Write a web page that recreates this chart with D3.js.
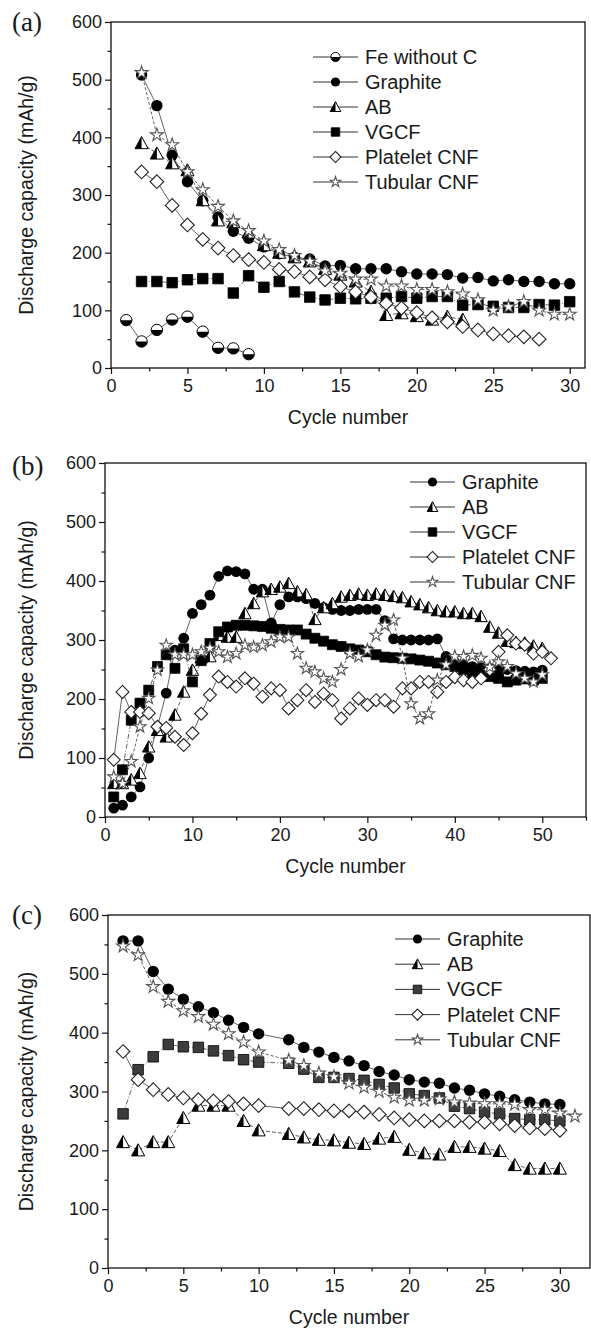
<!DOCTYPE html>
<html>
<head>
<meta charset="utf-8">
<script src="https://cdn.jsdelivr.net/npm/d3@7"></script>
<style>
  body { margin: 0; background: #fff; }
  text { font-family: 'Liberation Sans', Arial, sans-serif; fill: #1a1a1a; }
</style>
</head>
<body>
<svg id="chart" width="591" height="1330"></svg>
<script>

// Discharge capacity (mAh/g), indexed by cycle number starting at 1; null = no point
const seriesNamesA = ['Fe without C', 'Graphite', 'AB', 'VGCF', 'Platelet CNF', 'Tubular CNF'];
const seriesNamesBC = ['Graphite', 'AB', 'VGCF', 'Platelet CNF', 'Tubular CNF'];

// (a)
const aFe = [83, 46, 66, 84, 89, 63, 35, 34, 24];
const aGraphite = [null, 508, 455, 369, 323, 290, 262, 237, 225, 210, 198, 192, 189, 177, 178,
  172, 172, 172, 167, 163, 163, 162, 156, 157, 151, 153, 150, 150, 146, 146];
const aAB = [null, 390, 372, 355, 343, 291, 256, 253, 235, 213, 200, 192, 185, 172, 162,
  150, 132, 92, 95, 90, 84, 89, 84];
const aVGCF = [null, 150, 150, 148, 153, 155, 155, 130, 160, 140, 150, 132, 123, 118, 121,
  120, 121, 121, 124, 121, 124, 124, 109, 110, 107, 105, 105, 110, 109, 115];
const aPlatelet = [null, 340, 323, 282, 248, 223, 208, 195, 188, 183, 171, 167, 158, 153, 141,
  132, 123, 112, 104, 96, 87, 80, 72, 66, 59, 56, 54, 50];
const aTubular = [null, 512, 404, 387, 340, 309, 280, 255, 238, 220, 205, 195, 185, 168, 164,
  154, 154, 142, 142, 136, 136, 132, 128, 118, 100, 106, 115, 100, 93, 93];

// (b)
const bGraphite = [15, 20, 34, 51, 100, 153, 210, 283, 303, 345, 360, 376, 408, 417, 416,
  412, 386, 386, 329, 360, 373, 373, 370, 362, 355, 352, 350, 350, 352, 352,
  352, 333, 302, 300, 300, 300, 300, 302, 272, 262, 258, 255, 253, 252, 250,
  250, 248, 247, 246, 249];
const bAB = [57, 57, 63, 74, 119, 147, 136, 173, 212, 249, 270, 272, 308, 305, 305,
  345, 362, 382, 386, 390, 396, 382, 377, 335, 355, 362, 373, 376, 378, 376,
  378, 376, 374, 372, 365, 360, 355, 350, 348, 348, 345, 345, 340, 322, 312,
  298, 296, 295, 290, 286];
const bVGCF = [34, 80, 164, 193, 215, 255, 275, 252, 285, 229, 265, 294, 314, 322, 325,
  325, 324, 323, 320, 318, 317, 317, 310, 303, 298, 292, 289, 285, 283, 280,
  275, 271, 270, 269, 268, 266, 264, 261, 258, 255, 250, 243, 240, 238, 235,
  229, 232, 234, 232, 235];
const bPlatelet = [97, 212, 178, 178, 176, 153, 151, 136, 122, 142, 175, 207, 238, 229, 221,
  235, 226, 204, 218, 215, 184, 198, 215, 195, 209, 198, 167, 184, 201, 190,
  198, 198, 187, 218, 218, 229, 229, 212, 229, 237, 232, 229, 235, 250, 280,
  308, 294, 292, 277, 280, 269];
const bTubular = [68, 57, 94, 153, 201, 249, 291, 275, 275, 275, 280, 286, 280, 271, 277,
  291, 288, 291, 297, 305, 305, 277, 252, 246, 235, 229, 250, 277, 272, 283,
  308, 325, 334, 269, 192, 167, 175, 232, 258, 272, 272, 274, 269, 254, 263,
  255, 243, 235, 229, 241];

// (c)  -- cycle 11 not measured
const cGraphite = [556, 556, 504, 474, 457, 444, 434, 421, 409, 398, null, 388, 375, 367, 358,
  352, 344, 334, 328, 320, 316, 314, 306, 302, 296, 292, 286, 282, 279, 278];
const cAB = [214, 200, 214, 214, 255, 276, 276, 276, 250, 234, null, 228, 222, 218, 217,
  213, 211, 220, 223, 201, 195, 193, 206, 206, 203, 199, 175, 169, 169, 169];
const cVGCF = [262, 337, 359, 380, 376, 375, 369, 361, 354, 350, null, 348, 338, 324, 324,
  322, 319, 312, 306, 296, 293, 289, 275, 271, 265, 262, 254, 252, 252, 250];
const cPlatelet = [368, 320, 303, 295, 289, 286, 284, 283, 279, 276, null, 271, 271, 269, 267,
  267, 265, 261, 255, 252, 250, 250, 250, 248, 248, 245, 242, 238, 237, 234];
const cTubular = [547, 532, 478, 453, 437, 427, 414, 398, 384, 367, null, 353, 344, 331, 325,
  314, 307, 300, 290, 285, 285, 287, 282, 280, 279, 279, 278, 269, 269, 263, 258];

const yTicks = [0, 100, 200, 300, 400, 500, 600];


const markerKinds = ['halfcircle', 'circle', 'halftri', 'square', 'diamond', 'star'];
const dashes = [null, null, '4,2', '5,2,1,2', null, '3,2'];


function toPoints(values) {
  return values
    .map((v, i) => ({c: i + 1, v: v}))
    .filter(d => d.v !== null);
}


function markerPath(kind, r) {
  switch (kind) {
    case 'circle':
    case 'halfcircle':
      return d3.symbol(d3.symbolCircle, Math.PI * r * r)();
    case 'square':
      return d3.symbol(d3.symbolSquare, 4 * r * r * 0.85)();
    case 'diamond': {
      const s = r * 1.2;
      return `M0,${-s}L${s},0L0,${s}L${-s},0Z`;
    }
    case 'halftri': {
      const h = r * 1.15;
      return `M0,${-h}L${h},${h * 0.85}L${-h},${h * 0.85}Z`;
    }
    case 'star':
      return d3.symbol(d3.symbolStar, (r * 1.2) * (r * 1.2) / 0.8908)();
  }
}


// one marker, drawn into selection (a <g> already translated)
function drawMarker(selection, kind, r, darkSquare) {
  const path = markerPath(kind, r);
  if (kind === 'circle') {
    selection.append('path').attr('d', path).attr('fill', '#000');
  } else if (kind === 'halfcircle') {
    selection.append('path').attr('d', path).attr('fill', '#fff');
    selection.append('path')
        .attr('d', `M${-r},0A${r},${r} 0 0 0 ${r},0Z`)
        .attr('fill', '#000');
    selection.append('path').attr('d', path)
        .attr('fill', 'none').attr('stroke', '#000').attr('stroke-width', 1);
  } else if (kind === 'halftri') {
    const h = r * 1.15;
    selection.append('path').attr('d', path).attr('fill', '#fff');
    selection.append('path')
        .attr('d', `M0,${-h}L0,${h * 0.85}L${-h},${h * 0.85}Z`)
        .attr('fill', '#000');
    selection.append('path').attr('d', path)
        .attr('fill', 'none').attr('stroke', '#000').attr('stroke-width', 1);
  } else if (kind === 'square') {
    selection.append('path').attr('d', path)
        .attr('fill', darkSquare ? '#3c3c3c' : '#000')
        .attr('stroke', '#000').attr('stroke-width', 0.8);
  } else if (kind === 'diamond') {
    selection.append('path').attr('d', path)
        .attr('fill', '#fff').attr('stroke', '#222').attr('stroke-width', 1.1);
  } else if (kind === 'star') {
    selection.append('path').attr('d', path)
        .attr('fill', '#fff').attr('stroke', '#555').attr('stroke-width', 1.1);
  }
}


function drawAxes(selection, p, x, y) {
  const b = p.box;
  const xMajor = d3.range(0, p.xMax + 0.01, p.xStep);
  const xMinor = d3.range(p.xStep / 2, p.xMax + 0.01, p.xStep);
  const yMinor = d3.range(50, 600, 100);

  const xAxis = selection.append('g')
      .attr('transform', `translate(0,${b.bottom})`)
      .call(d3.axisBottom(x).tickValues(xMajor).tickSize(6).tickPadding(5).tickSizeOuter(0));
  selection.append('g')
      .attr('transform', `translate(0,${b.bottom})`)
      .call(d3.axisBottom(x).tickValues(xMinor).tickSize(3.5).tickFormat('').tickSizeOuter(0));
  const yAxis = selection.append('g')
      .attr('transform', `translate(${b.left},0)`)
      .call(d3.axisLeft(y).tickValues(yTicks).tickSize(6).tickPadding(3).tickSizeOuter(0));
  selection.append('g')
      .attr('transform', `translate(${b.left},0)`)
      .call(d3.axisLeft(y).tickValues(yMinor).tickSize(3.5).tickFormat('').tickSizeOuter(0));

  selection.selectAll('.domain').remove();
  selection.selectAll('.tick line').attr('stroke', '#111').attr('stroke-width', 1.2);
  xAxis.selectAll('text').attr('font-size', 18).attr('fill', '#1a1a1a');
  yAxis.selectAll('text').attr('font-size', 18).attr('fill', '#1a1a1a');

  // frame
  selection.append('rect')
      .attr('x', b.left)
      .attr('y', b.top)
      .attr('width', b.right - b.left)
      .attr('height', b.bottom - b.top)
      .attr('fill', 'none')
      .attr('stroke', '#111')
      .attr('stroke-width', 1.3);

  selection.append('text')
      .attr('transform', `translate(26,${(b.top + b.bottom) / 2}) rotate(-90)`)
      .attr('text-anchor', 'middle')
      .attr('dominant-baseline', 'central')
      .attr('font-size', 19.5)
      .text('Discharge capacity (mAh/g)');
  selection.append('text')
      .attr('x', (b.left + b.right) / 2)
      .attr('y', b.bottom + p.xLabelDy)
      .attr('text-anchor', 'middle')
      .attr('font-size', 19.5)
      .text('Cycle number');
  // panel tag, serif (style so the css rule does not win)
  selection.append('text')
      .attr('x', 12)
      .attr('y', b.top + p.tagDy)
      .style('font-family', "'Liberation Serif', 'Times New Roman', serif")
      .attr('font-size', 27)
      .text(p.tag);
}


function drawSeries(selection, p, x, y) {
  const line = d3.line().x(d => x(d.c)).y(d => y(d.v));
  p.series.forEach(s => {
    const pts = toPoints(s.values);
    const g = selection.append('g').attr('class', 'series');
    g.append('path')
        .datum(pts)
        .attr('d', line)
        .attr('fill', 'none')
        .attr('stroke', '#3a3a3a')
        .attr('stroke-width', 0.8)
        .attr('stroke-dasharray', s.dash);
    g.selectAll('.pt')
      .data(pts)
      .enter().append('g')
        .attr('class', 'pt')
        .attr('transform', d => `translate(${x(d.c)},${y(d.v)})`)
        .each(function () {
          d3.select(this).call(drawMarker, s.kind, p.markerR, p.darkSquare);
        });
  });
}


function drawLegend(selection, p) {
  const L = p.legend;
  p.series.forEach((s, i) => {
    const row = selection.append('g')
        .attr('transform', `translate(${L.x},${L.y + i * L.dy})`);
    row.append('line')
        .attr('x1', 0).attr('x2', 45)
        .attr('y1', 0).attr('y2', 0)
        .attr('stroke', '#333')
        .attr('stroke-width', 1);
    row.append('g')
        .attr('transform', 'translate(22.5,0)')
        .call(drawMarker, s.kind, 4.6, p.darkSquare);
    row.append('text')
        .attr('x', 52)
        .attr('y', 0)
        .attr('dominant-baseline', 'central')
        .attr('font-size', 20)
        .text(s.name);
  });
}


function makeSeries(names, arrays, offset) {
  return names.map((n, i) => ({
    name: n,
    values: arrays[i],
    kind: markerKinds[i + offset],
    dash: dashes[i + offset]
  }));
}


const panels = [
  {
    tag: '(a)', box: {left: 111, right: 585, top: 22, bottom: 368},
    xMax: 31, xStep: 5, xLabelDy: 56, tagDy: 9, markerR: 5.7, darkSquare: false,
    series: makeSeries(seriesNamesA, [aFe, aGraphite, aAB, aVGCF, aPlatelet, aTubular], 0),
    legend: {x: 313, y: 57, dy: 25}
  },
  {
    tag: '(b)', box: {left: 105, right: 586, top: 463, bottom: 817},
    xMax: 55, xStep: 10, xLabelDy: 56, tagDy: 12, markerR: 5.4, darkSquare: false,
    series: makeSeries(seriesNamesBC, [bGraphite, bAB, bVGCF, bPlatelet, bTubular], 1),
    legend: {x: 410, y: 482, dy: 25}
  },
  {
    tag: '(c)', box: {left: 108, right: 590, top: 915, bottom: 1268},
    xMax: 32, xStep: 5, xLabelDy: 56, tagDy: 9, markerR: 5.7, darkSquare: true,
    series: makeSeries(seriesNamesBC, [cGraphite, cAB, cVGCF, cPlatelet, cTubular], 1),
    legend: {x: 395, y: 939, dy: 25.2}
  }
];


const svg = d3.select('#chart');
panels.forEach(p => {
  const x = d3.scaleLinear().domain([0, p.xMax]).range([p.box.left, p.box.right]);
  const y = d3.scaleLinear().domain([0, 600]).range([p.box.bottom, p.box.top]);
  const g = svg.append('g').attr('class', 'panel');
  g.call(drawAxes, p, x, y);
  g.append('g').call(drawSeries, p, x, y);
  g.append('g').call(drawLegend, p);
});

</script>
</body>
</html>
